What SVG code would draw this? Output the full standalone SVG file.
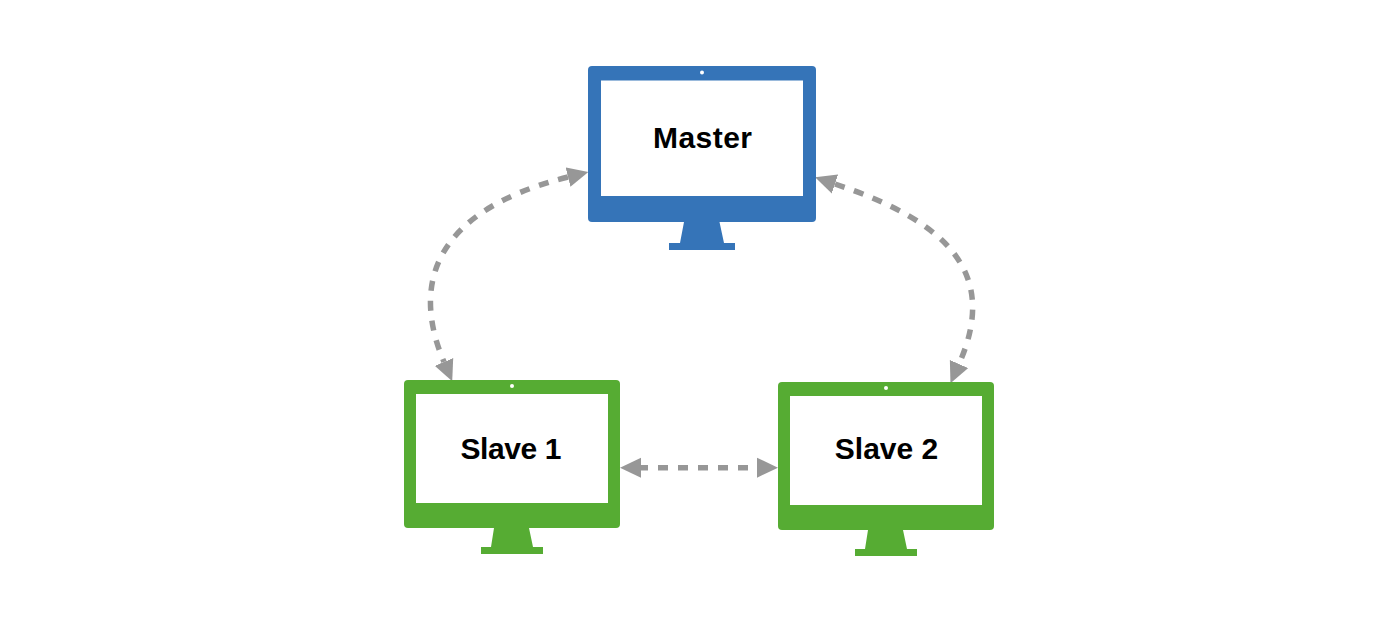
<svg xmlns="http://www.w3.org/2000/svg" width="1395" height="627" viewBox="0 0 1395 627">
  <style>
    .blue { fill: #3574b8; }
    .green { fill: #56ac33; }
    .screen { fill: #ffffff; }
    .label { font-family: "Liberation Sans", Arial, sans-serif; font-weight: 700; font-size: 30px; fill: #000000; text-anchor: middle; }
    .link { fill: none; stroke: #979797; stroke-width: 5.5; stroke-dasharray: 10 10; marker-start: url(#head); marker-end: url(#head); }
  </style>
  <defs>
    <marker id="head" markerUnits="userSpaceOnUse" markerWidth="21" markerHeight="21" refX="0" refY="10.5" orient="auto-start-reverse">
      <path d="M0 0.5 L21 10.5 L0 20.5 Z" fill="#979797"/>
    </marker>
  </defs>
  <rect width="1395" height="627" fill="#ffffff"/>
  <g id="connectors">
    <path class="link" d="M568 177 C436 210 410 282 444 362"/>
    <path class="link" d="M835 184 C949 222 999 274 959 364"/>
    <path class="link" d="M641 467.7 L757 467.7" stroke-dashoffset="3"/>
  </g>
  <g id="master">
    <rect class="blue" x="588" y="66" width="228" height="156" rx="4"/>
    <path class="blue" d="M684 222 H719.5 L724 243 H735 V250 H669 V243 H680 Z"/>
    <rect class="screen" x="601" y="80.5" width="202" height="115.5"/>
    <circle class="screen" cx="702" cy="72.5" r="2"/>
    <text class="label" x="702.500" y="148" textLength="99">Master</text>
  </g>
  <g id="slave1">
    <rect class="green" x="404" y="380" width="216" height="148" rx="4"/>
    <path class="green" d="M494 528 H529 L533 547 H543 V554 H481 V547 H491 Z"/>
    <rect class="screen" x="416" y="394" width="192" height="109"/>
    <circle class="screen" cx="512" cy="386" r="2"/>
    <text class="label" x="511" y="459" textLength="101">Slave 1</text>
  </g>
  <g id="slave2">
    <rect class="green" x="778" y="382" width="216" height="148" rx="4"/>
    <path class="green" d="M868 530 H903 L907 549 H917 V556 H855 V549 H865 Z"/>
    <rect class="screen" x="790" y="396" width="192" height="109"/>
    <circle class="screen" cx="886" cy="388" r="2"/>
    <text class="label" x="886.500" y="459">Slave 2</text>
  </g>
</svg>
